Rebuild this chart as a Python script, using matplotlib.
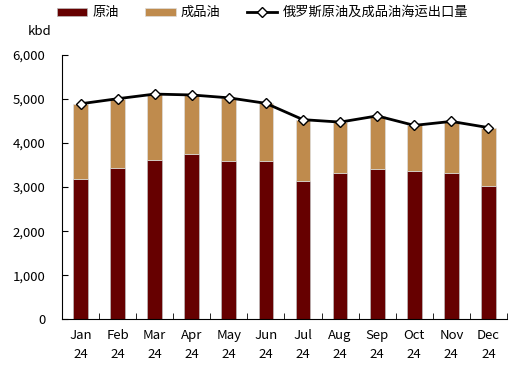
import matplotlib.pyplot as plt
import numpy as np

plt.rcParams['font.family'] = ['Noto Sans CJK SC', 'DejaVu Sans']

months = ["Jan\n24", "Feb\n24", "Mar\n24", "Apr\n24", "May\n24", "Jun\n24",
          "Jul\n24", "Aug\n24", "Sep\n24", "Oct\n24", "Nov\n24", "Dec\n24"]
crude = [3190, 3430, 3620, 3750, 3590, 3590, 3150, 3310, 3400, 3355, 3330, 3015]
total = [4890, 5005, 5110, 5090, 5025, 4900, 4530, 4475, 4615, 4400, 4490, 4350]
products = [t - c for t, c in zip(total, crude)]

x = np.arange(len(months))

fig = plt.figure(figsize=(5.21, 3.68), dpi=100)
ax = fig.add_axes([0.119, 0.132, 0.854, 0.719])

b1 = ax.bar(x, crude, width=0.4, color="#660000", edgecolor="#bbbbbb", linewidth=0.5, label="原油")
b2 = ax.bar(x, products, bottom=crude, width=0.4, color="#BF8B4D", edgecolor="#dddddd", linewidth=0.5, label="成品油")
ln, = ax.plot(x, total, color="black", linewidth=2, marker="D", markersize=5.5,
              markerfacecolor="white", markeredgecolor="black", markeredgewidth=1,
              label="俄罗斯原油及成品油海运出口量")

ax.set_xlim(-0.5, len(months) - 0.5)
ax.set_ylim(0, 6000)
ax.set_yticks(range(0, 6001, 1000))
ax.set_yticklabels([f"{v:,}" for v in range(0, 6001, 1000)], fontsize=9.5)
ax.set_xticks(x)
ax.set_xticklabels(months, fontsize=9.5, linespacing=1.55)
ax.set_xticks(np.arange(-0.5, len(months)), minor=True)
ax.tick_params(axis="x", which="major", length=0, pad=7)
ax.tick_params(axis="x", which="minor", direction="in", length=4)
ax.tick_params(axis="y", direction="in", length=4, pad=12)
ax.spines["top"].set_visible(False)
ax.spines["right"].set_visible(False)

fig.text(0.054, 0.905, "kbd", fontsize=9.5)

fig.legend(handles=[b1, b2, ln], loc="upper left", bbox_to_anchor=(0.109, 0.983),
           ncol=3, frameon=False, fontsize=9.5, handlelength=2.3, handleheight=0.55,
           columnspacing=2.0, handletextpad=0.4, borderpad=0, borderaxespad=0)

fig.savefig("out.png", dpi=100)
